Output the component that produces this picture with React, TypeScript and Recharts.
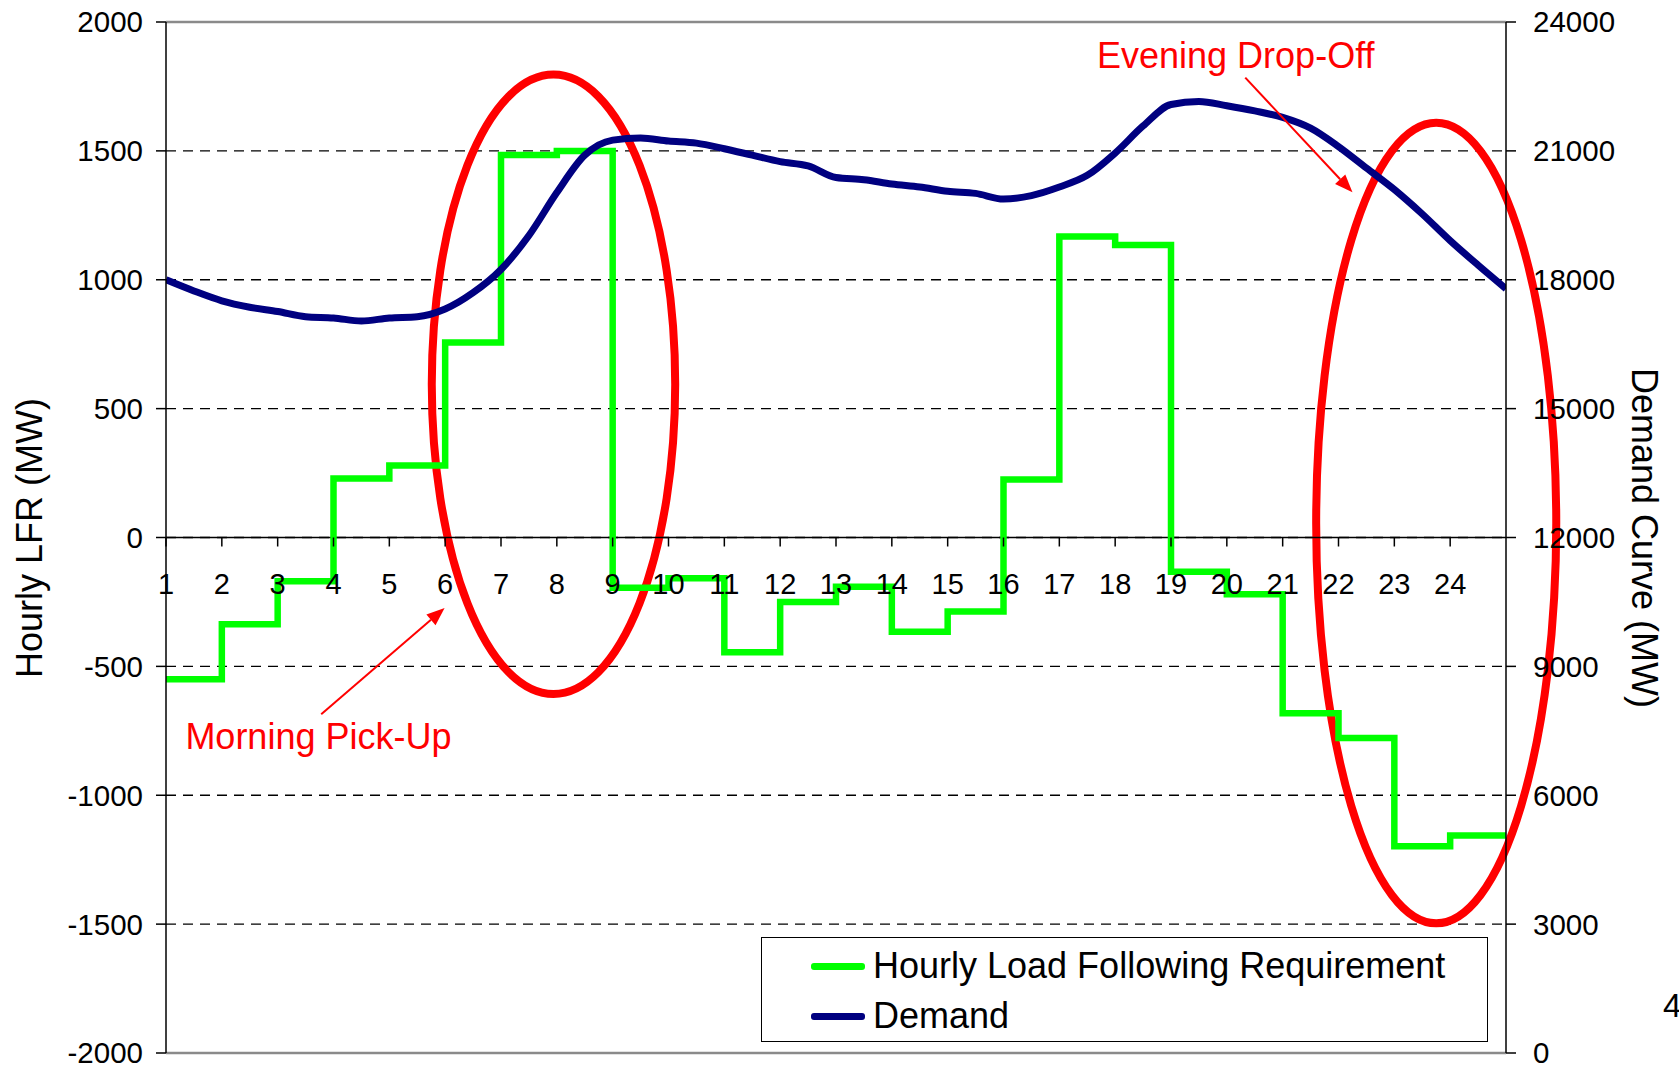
import React from 'react';
import {
  LineChart,
  Line,
  XAxis,
  YAxis,
  CartesianGrid,
  Legend,
  ReferenceLine,
  ReferenceArea,
  ReferenceDot,
} from 'recharts';

// hour-of-day axis
const hourTicks = [1, 2, 3, 4, 5, 6, 7, 8, 9, 10, 11, 12, 13, 14, 15, 16, 17, 18, 19, 20, 21, 22, 23, 24];

// hourly load following requirement (MW), one step per hour, last value repeated to close the step
const lfrHours = [1, 2, 3, 4, 5, 6, 7, 8, 9, 10, 11, 12, 13, 14, 15, 16, 17, 18, 19, 20, 21, 22, 23, 24, 25];
const lfrValues = [
  -550, -337, -170, 229, 279, 757, 1484, 1500, -195, -158, -445, -250,
  -191, -366, -287, 225, 1168, 1135, -133, -220, -682, -778, -1198, -1156, -1156,
];

// demand curve (MW), read every half hour
const demandHours = [
  1, 1.5, 2, 2.5, 3, 3.5, 4, 4.5, 5, 5.5, 6, 6.5, 7, 7.5, 8, 8.5, 9, 9.5, 10, 10.5,
  11, 11.5, 12, 12.5, 13, 13.5, 14, 14.5, 15, 15.5, 16, 16.5, 17, 17.5, 18, 18.5, 19, 19.5,
  20, 20.5, 21, 21.5, 22, 22.5, 23, 23.5, 24, 24.5, 25,
];
const demandValues = [
  18000, 17740, 17510, 17360, 17260, 17140, 17110, 17040, 17110, 17140, 17320, 17700,
  18240, 19030, 20030, 20900, 21250, 21300, 21230, 21180, 21050, 20900, 20750, 20650,
  20380, 20330, 20230, 20160, 20060, 20010, 19880, 19960, 20160, 20430, 20950, 21580,
  22080, 22150, 22050, 21930, 21780, 21530, 21100, 20600, 20100, 19530, 18910, 18340, 17790,
];

const lfrTicks = [-2000, -1500, -1000, -500, 0, 500, 1000, 1500, 2000];
const demandTicks = [0, 3000, 6000, 9000, 12000, 15000, 18000, 21000, 24000];

const seriesNames = ['Hourly Load Following Requirement', 'Demand'];

const lfrData = lfrHours.map((hour, i) => ({ hour, lfr: lfrValues[i] }));
const demandData = demandHours.map((hour, i) => ({ hour, demand: demandValues[i] }));

const W = 1679;
const H = 1065;
const PLOT_TOP = 22;
const PLOT_BOTTOM = 1053;
const ZERO_Y = (PLOT_TOP + PLOT_BOTTOM) / 2;
const RED = '#ff0000';
const FONT = '"Liberation Sans", Arial, sans-serif';

// x ticks sit on the zero line, not at the bottom of the plot
const HourTick = (props: any) => {
  const { x, payload } = props;
  return (
    <g>
      <line x1={x} y1={ZERO_Y} x2={x} y2={ZERO_Y + 9} stroke="#000" strokeWidth={1.5} />
      <text x={x} y={ZERO_Y + 56} textAnchor="middle" fontSize={29} fill="#000">
        {payload.value}
      </text>
    </g>
  );
};

const Ellipse = (props: any) => {
  const { x, y, width, height } = props;
  return (
    <ellipse
      cx={x + width / 2}
      cy={y + height / 2}
      rx={Math.abs(width) / 2}
      ry={Math.abs(height) / 2}
      fill="none"
      stroke={RED}
      strokeWidth={8}
    />
  );
};

const Arrow = (props: any) => {
  const { x1, y1, x2, y2 } = props;
  const a = Math.atan2(y2 - y1, x2 - x1);
  const len = 18;
  const w = 7;
  const bx = x2 - len * Math.cos(a);
  const by = y2 - len * Math.sin(a);
  const pts = [
    `${x2},${y2}`,
    `${bx + w * Math.sin(a)},${by - w * Math.cos(a)}`,
    `${bx - w * Math.sin(a)},${by + w * Math.cos(a)}`,
  ].join(' ');
  return (
    <g>
      <line x1={x1} y1={y1} x2={bx} y2={by} stroke={RED} strokeWidth={2} />
      <polygon points={pts} fill={RED} />
    </g>
  );
};

const note = (text: string) => (props: any) => (
  <text x={props.cx} y={props.cy} textAnchor="middle" dominantBaseline="central" fontSize={36} fill={RED}>
    {text}
  </text>
);

const LegendBox = (props: any) => {
  const { payload = [] } = props;
  const items = seriesNames
    .map((name) => payload.find((p: any) => p.value === name))
    .filter(Boolean);
  return (
    <div
      style={{
        width: 727,
        height: 105,
        boxSizing: 'border-box',
        border: '1.5px solid #000',
        background: '#fff',
        paddingTop: 3,
      }}
    >
      {items.map((item: any) => (
        <div key={item.value} style={{ display: 'flex', alignItems: 'center', height: 50 }}>
          <div style={{ width: 54, height: 7, marginLeft: 49, background: item.color, borderRadius: 3 }} />
          <span style={{ marginLeft: 8, fontSize: 36, color: '#000', lineHeight: 1 }}>{item.value}</span>
        </div>
      ))}
    </div>
  );
};

export default function App() {
  return (
    <div style={{ position: 'absolute', left: 0, top: 0, width: W, height: H, background: '#fff', fontFamily: FONT }}>
      <style>{'body{margin:0}'}</style>
      <LineChart width={W} height={H} margin={{ top: PLOT_TOP, right: 73, bottom: H - PLOT_BOTTOM - 1, left: 66 }}>
        <CartesianGrid yAxisId="left" vertical={false} stroke="#000" strokeWidth={1.3} strokeDasharray="10 7" />
        <XAxis
          type="number"
          dataKey="hour"
          domain={[1, 25]}
          ticks={hourTicks}
          interval={0}
          height={1}
          axisLine={false}
          tickLine={false}
          tick={<HourTick />}
          allowDataOverflow
        />
        <YAxis
          yAxisId="left"
          width={100}
          domain={[-2000, 2000]}
          ticks={lfrTicks}
          interval={0}
          axisLine={{ stroke: '#000', strokeWidth: 1.5 }}
          tickLine={{ stroke: '#000', strokeWidth: 1.5 }}
          tickSize={10}
          tickMargin={13}
          tick={{ fontSize: 29.5, fill: '#000' }}
        />
        <YAxis
          yAxisId="right"
          orientation="right"
          width={100}
          domain={[0, 24000]}
          ticks={demandTicks}
          interval={0}
          axisLine={{ stroke: '#000', strokeWidth: 1.5 }}
          tickLine={{ stroke: '#000', strokeWidth: 1.5 }}
          tickSize={10}
          tickMargin={17}
          tick={{ fontSize: 29.5, fill: '#000' }}
        />
        <ReferenceLine yAxisId="left" y={2000} stroke="#8a8a8a" strokeWidth={2.5} />
        <ReferenceLine yAxisId="left" y={-2000} stroke="#8a8a8a" strokeWidth={2.5} />
        <ReferenceLine yAxisId="left" y={0} stroke="#000" strokeWidth={1.5} />
        <Line
          yAxisId="left"
          data={lfrData}
          dataKey="lfr"
          name={seriesNames[0]}
          type="stepAfter"
          stroke="#00ff00"
          strokeWidth={6.5}
          dot={false}
          isAnimationActive={false}
        />
        <Line
          yAxisId="right"
          data={demandData}
          dataKey="demand"
          name={seriesNames[1]}
          type="monotone"
          stroke="#000080"
          strokeWidth={7}
          dot={false}
          isAnimationActive={false}
        />
        <ReferenceArea yAxisId="left" x1={5.76} x2={10.12} y1={1796} y2={-607} shape={<Ellipse />} ifOverflow="visible" />
        <ReferenceArea yAxisId="left" x1={21.6} x2={25.9} y1={1609} y2={-1497} shape={<Ellipse />} ifOverflow="visible" />
        <ReferenceLine yAxisId="left" segment={[{ x: 3.78, y: -686 }, { x: 5.99, y: -274 }]} shape={Arrow} ifOverflow="visible" />
        <ReferenceLine yAxisId="left" segment={[{ x: 20.33, y: 1784 }, { x: 22.25, y: 1339 }]} shape={Arrow} ifOverflow="visible" />
        <ReferenceDot yAxisId="left" x={3.73} y={-773} r={0} shape={note('Morning Pick-Up')} ifOverflow="visible" />
        <ReferenceDot yAxisId="left" x={20.16} y={1871} r={0} shape={note('Evening Drop-Off')} ifOverflow="visible" />
        <Legend
          layout="horizontal"
          verticalAlign="middle"
          align="center"
          content={<LegendBox />}
          wrapperStyle={{ left: 761, top: 937, width: 727, height: 105 }}
        />
      </LineChart>
      <div
        style={{
          position: 'absolute',
          left: 30,
          top: ZERO_Y,
          transform: 'translate(-50%, -50%) rotate(-90deg)',
          fontSize: 36,
          whiteSpace: 'nowrap',
          color: '#000',
        }}
      >
        Hourly LFR (MW)
      </div>
      <div
        style={{
          position: 'absolute',
          left: 1644,
          top: ZERO_Y,
          transform: 'translate(-50%, -50%) rotate(90deg)',
          fontSize: 36,
          whiteSpace: 'nowrap',
          color: '#000',
        }}
      >
        Demand Curve (MW)
      </div>
      <div style={{ position: 'absolute', left: 1663, top: 987, fontSize: 33, color: '#000' }}>4</div>
    </div>
  );
}
